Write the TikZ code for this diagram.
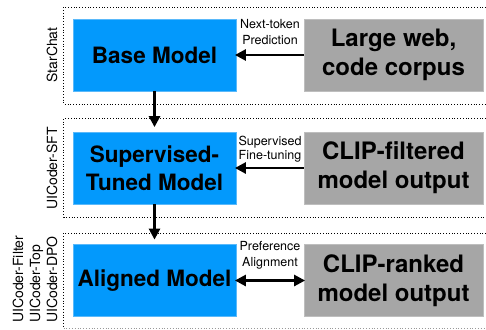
\documentclass[tikz,border=0pt]{standalone}
\usepackage{fontspec}
\setmainfont{TeX Gyre Heros}
\usetikzlibrary{arrows.meta}
\definecolor{boxblue}{RGB}{3,153,252}
\definecolor{boxblueline}{RGB}{90,185,250}
\definecolor{boxgray}{RGB}{166,166,166}
\definecolor{boxgrayline}{RGB}{190,190,190}
\tikzset{
  bluebox/.style={draw=boxblueline, line width=0.8pt, fill=boxblue, minimum width=163pt, minimum height=72pt, inner sep=0pt, align=center, font=\fontsize{22.5}{28}\selectfont\bfseries},
  graybox/.style={draw=boxgrayline, line width=0.8pt, fill=boxgray, minimum width=179pt, minimum height=72pt, inner sep=0pt, align=center, font=\fontsize{24}{29}\selectfont\bfseries},
  frame/.style={dotted, line width=0.8pt},
  arr/.style={line width=2.6pt, -{Triangle[length=11pt,width=11pt]}},
  darr/.style={line width=2.6pt, {Triangle[length=11pt,width=11pt]}-{Triangle[length=11pt,width=11pt]}},
  smalllabel/.style={font=\fontsize{12.5}{15}\selectfont, align=center, inner sep=0pt},
  sidelabel/.style={font=\fontsize{14}{16}\selectfont, rotate=90, inner sep=0pt}
}
\begin{document}
\begin{tikzpicture}[x=1pt,y=-1pt]
\useasboundingbox (0,0) rectangle (486,329);
% frames
\draw[frame] (486,7) -- (63.5,7) -- (63.5,104) -- (486,104);
\draw[frame] (486,118.5) -- (63.5,118.5) -- (63.5,217) -- (486,217);
\draw[frame] (486,233) -- (63.5,233) -- (63.5,328);
\draw[frame, draw=black!40] (63.5,328) -- (486,328);
% boxes
\node[bluebox] (b1) at (154.5,55) {Base Model};
\node[bluebox] (b2) at (154.5,168) {Supervised-\\Tuned Model};
\node[bluebox] (b3) at (154.5,280.5) {Aligned Model};
\node[graybox] (g1) at (393.5,55) {Large web,\\code corpus};
\node[graybox] (g2) at (393.5,168) {CLIP-filtered\\model output};
\node[graybox] (g3) at (393.5,280.5) {CLIP-ranked\\model output};
% connectors
\draw[arr, shorten >=-1.5pt] (g1.west) -- (b1.east);
\draw[arr, shorten >=-1.5pt] (g2.west) -- (b2.east);
\draw[darr, shorten >=-1.5pt, shorten <=-1.5pt] (b3.east) -- (g3.west);
\draw[arr, shorten >=4.5pt] (b1.south) -- (b2.north);
\draw[arr, shorten >=4.5pt] (b2.south) -- (b3.north);
% connector labels
\node[smalllabel, anchor=base] (l1a) at (270,29) {Next-token};
\node[smalllabel, anchor=base] (l1b) at (270,45) {Prediction};
\node[smalllabel, anchor=base] (l2a) at (270,145) {Supervised};
\node[smalllabel, anchor=base] (l2b) at (270,159.5) {Fine-tuning};
\node[smalllabel, anchor=base] (l3a) at (270,250) {Preference};
\node[smalllabel, anchor=base] (l3b) at (270,266) {Alignment};
% side labels
\node[sidelabel, anchor=base] (s1) at (57,55) {StarChat};
\node[sidelabel, anchor=base] (s2) at (57,168.5) {UICoder-SFT};
\node[sidelabel, anchor=base west] (s3a) at (23,323) {UICoder-Filter};
\node[sidelabel, anchor=base west] (s3b) at (40,323) {UICoder-Top};
\node[sidelabel, anchor=base west] (s3c) at (57,323) {UICoder-DPO};
\end{tikzpicture}
\end{document}
